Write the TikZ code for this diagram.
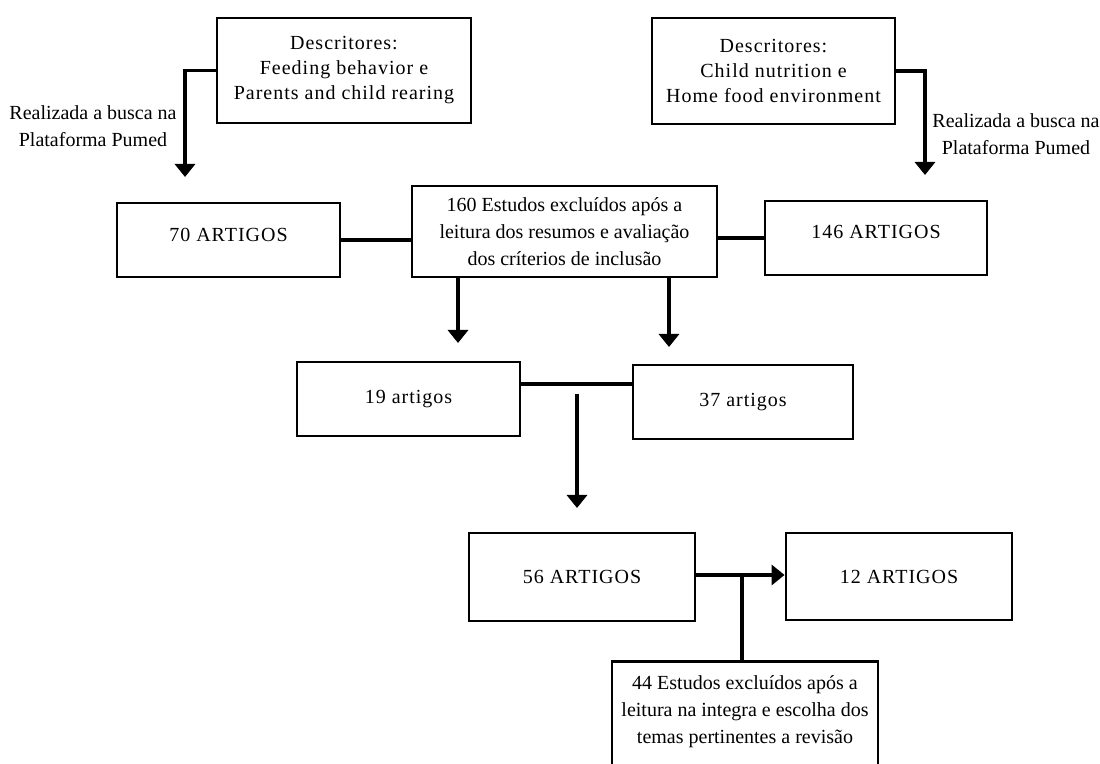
\documentclass[tikz,border=0pt]{standalone}
\usepackage{fontspec}
\setmainfont{Liberation Serif}
\newfontfamily\widefont[LetterSpace=5]{Liberation Serif}
\usetikzlibrary{arrows.meta}

\begin{document}
\begin{tikzpicture}[x=0.5pt,y=-0.5pt,
		font=\fontsize{10}{13.5}\selectfont,
		box/.style={draw, line width=1.4pt, align=center, inner sep=0pt},
		widebox/.style={box, font=\widefont\fontsize{10}{12.5}\selectfont},
		link/.style={line width=1.6pt},
		arr/.style={line width=1.8pt, -{Triangle[width=10pt,length=6.5pt]}}]
	\useasboundingbox (0,0) rectangle (1100,764);
	\clip (0,0) rectangle (1100,764);

	% descritores
	\node[widebox, minimum width=127pt, minimum height=52.5pt] (desc1) at (344,70.5) {Descritores:\\Feeding behavior e\\Parents and child rearing};
	\node[widebox, minimum width=121.5pt, minimum height=53pt] (desc2) at (773.5,71) {Descritores:\\Child nutrition e\\Home food environment};
	\node[align=center] (busca1) at (93,126) {Realizada a busca na\\Plataforma Pumed};
	\node[align=center] (busca2) at (1016,134) {Realizada a busca na\\Plataforma Pumed};

	% primeira busca
	\node[widebox, minimum width=111.5pt, minimum height=37pt, text depth=5pt] (a70) at (228.5,240) {70 ARTIGOS};
	\node[box, minimum width=152.5pt, minimum height=45.5pt] (exc160) at (564.5,231.5) {160 Estudos excluídos após a\\leitura dos resumos e avaliação\\dos críterios de inclusão};
	\node[widebox, minimum width=111pt, minimum height=37pt, text depth=6pt] (a146) at (876,238) {146 ARTIGOS};

	% selecionados
	\node[widebox, minimum width=111.5pt, minimum height=37pt] (a19) at (408.5,399) {19 artigos};
	\node[widebox, minimum width=110pt, minimum height=37pt] (a37) at (743,402) {37 artigos};
	\node[widebox, minimum width=113pt, minimum height=44pt] (a56) at (582,577) {56 ARTIGOS};
	\node[widebox, minimum width=113pt, minimum height=43.5pt] (a12) at (899,576.5) {12 ARTIGOS};
	\node[box, anchor=north, minimum width=133pt, inner ysep=7pt, text depth=48pt] (exc44) at (745,660) {44 Estudos excluídos após a\\leitura na integra e escolha dos\\temas pertinentes a revisão};

	\coordinate (t1) at (185,177);
	\coordinate (t2) at (925,175);
	\coordinate (t3) at (458,343);
	\coordinate (t4) at (669,347);
	\coordinate (j1) at (577,384);
	\coordinate (t5) at (577,508);
	\coordinate (j2) at (742,575);

	\draw[arr] (desc1.west) -| (t1);
	\draw[arr] (desc2.east) -| (t2);
	\draw[link] (a70.east) -- (a70.east -| exc160.west);
	\draw[link] (a146.west) -- (a146.west -| exc160.east);
	\draw[arr] (t3 |- exc160.south) -- (t3);
	\draw[arr] (t4 |- exc160.south) -- (t4);
	\draw[link] (a19.east |- j1) -- (a37.west |- j1);
	\draw[arr] ([yshift=-5]j1) -- (t5);
	\draw[arr] (a56.east |- j2) -- (a12.west |- j2);
	\draw[link] (exc44.north -| j2) -- (j2);
\end{tikzpicture}
\end{document}
